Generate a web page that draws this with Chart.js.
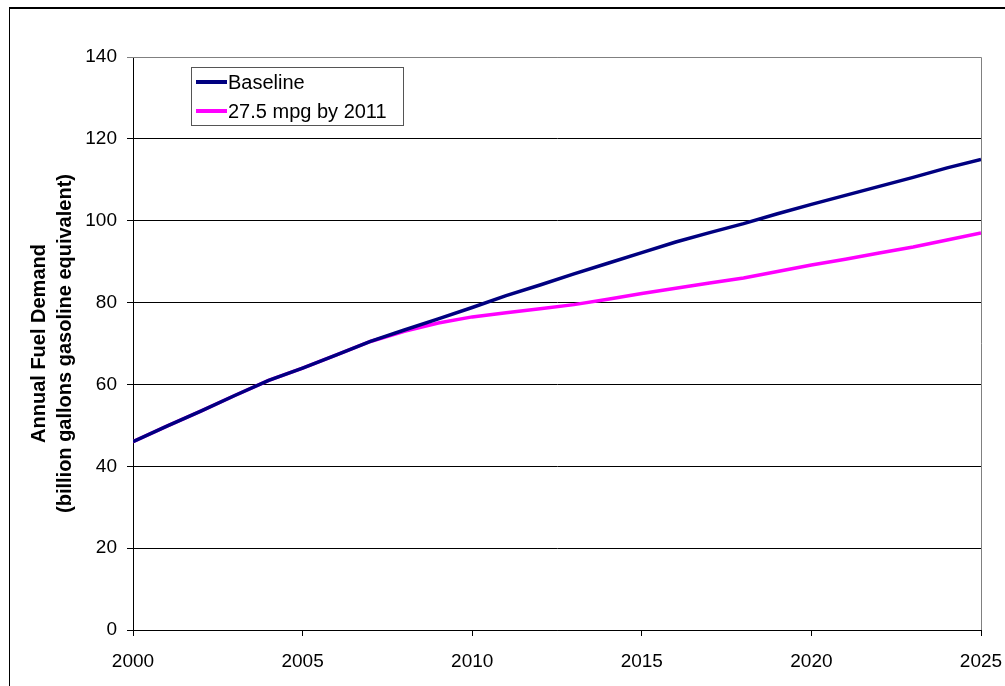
<!DOCTYPE html>
<html lang="en">
<head>
    <meta charset="UTF-8">
    <title>Annual Fuel Demand</title>
    <script src="https://cdn.jsdelivr.net/npm/chart.js"></script>
    <style>
        body { margin: 0; background: #fff; font-family: Arial, "Liberation Sans", sans-serif; }
        #frame { position: absolute; left: 9px; top: 7px; width: 1100px; height: 800px;
                 border-left: 1px solid #000; border-top: 2px solid #000; }
        #wrap { position: absolute; left: 0; top: 0; width: 1005px; height: 686px; }
    </style>
</head>
<body>
    <div id="frame"></div>
    <div id="wrap"><canvas id="fuelChart" width="1005" height="686"></canvas></div>

    <script>
        // data
        const years = [2000, 2001, 2002, 2003, 2004, 2005, 2006, 2007, 2008, 2009, 2010, 2011, 2012,
                       2013, 2014, 2015, 2016, 2017, 2018, 2019, 2020, 2021, 2022, 2023, 2024, 2025];
        const baseline = [46, 49.8, 53.5, 57.3, 61, 64, 67.2, 70.5, 73.3, 76, 78.8, 81.7, 84.3,
                          87, 89.6, 92.2, 94.8, 97.1, 99.3, 101.7, 104, 106.2, 108.4, 110.6, 112.9, 115];
        const mpg275 = [46, 49.8, 53.5, 57.3, 61, 64, 67.2, 70.5, 73, 75, 76.5, 77.5, 78.5,
                        79.5, 80.8, 82.2, 83.5, 84.8, 86, 87.6, 89.2, 90.6, 92.1, 93.6, 95.3, 97];
        const seriesNames = ['Baseline', '27.5 mpg by 2011'];
        const yTitle = ['Annual Fuel Demand', '(billion gallons gasoline equivalent)'];

        const toPoints = vals => years.map((yr, i) => ({ x: yr, y: vals[i] }));

        // legend box drawn inside the plot, plus the grey plot border
        const boxLegend = {
            id: 'boxLegend',
            beforeDatasetsDraw(chart) {
                const { ctx, chartArea: a } = chart;
                ctx.save();
                ctx.strokeStyle = '#808080';
                ctx.lineWidth = 1;
                ctx.beginPath();
                ctx.moveTo(a.left, a.top + 0.5);
                ctx.lineTo(a.right + 0.5, a.top + 0.5);
                ctx.lineTo(a.right + 0.5, a.bottom);
                ctx.stroke();
                ctx.restore();
            },
            afterDraw(chart) {
                const { ctx, chartArea: a } = chart;
                const x = a.left + 58, y = a.top + 10, w = 212, h = 58;
                ctx.save();
                ctx.fillStyle = '#fff';
                ctx.fillRect(x, y, w, h);
                ctx.strokeStyle = '#555';
                ctx.lineWidth = 1;
                ctx.strokeRect(x + 0.5, y + 0.5, w, h);
                ctx.font = '20px Arial, "Liberation Sans", sans-serif';
                ctx.textBaseline = 'middle';
                chart.data.datasets.forEach((ds, i) => {
                    const ly = y + 15 + i * 29;
                    ctx.strokeStyle = ds.borderColor;
                    ctx.lineWidth = 4;
                    ctx.beginPath();
                    ctx.moveTo(x + 5, ly);
                    ctx.lineTo(x + 36, ly);
                    ctx.stroke();
                    ctx.fillStyle = '#000';
                    ctx.fillText(ds.label, x + 37, ly + 1);
                });
                ctx.restore();
            }
        };

        const tickFont = { family: 'Arial, "Liberation Sans", sans-serif', size: 19 };

        new Chart(document.getElementById('fuelChart'), {
            type: 'line',
            data: {
                datasets: [
                    { label: seriesNames[0], data: toPoints(baseline), borderColor: '#000080',
                      borderWidth: 3.5, pointRadius: 0, tension: 0, fill: false },
                    { label: seriesNames[1], data: toPoints(mpg275), borderColor: '#ff00ff',
                      borderWidth: 3.5, pointRadius: 0, tension: 0, fill: false }
                ]
            },
            options: {
                responsive: false,
                animation: false,
                layout: { padding: { top: 57, right: 24, left: 0, bottom: 0 } },
                plugins: { legend: { display: false }, tooltip: { enabled: false } },
                scales: {
                    x: {
                        type: 'linear', min: 2000, max: 2025,
                        afterFit: s => { s.height = 56; s.paddingLeft = 0; s.paddingRight = 0; },
                        border: { color: '#000', width: 1 },
                        grid: { drawOnChartArea: false, drawTicks: true, tickLength: 6, color: '#000' },
                        ticks: { stepSize: 5, color: '#000', font: tickFont, padding: 14,
                                 callback: v => String(v), maxRotation: 0 }
                    },
                    y: {
                        min: 0, max: 140,
                        afterFit: s => { s.width = 133; s.paddingTop = 0; s.paddingBottom = 0; },
                        border: { color: '#000', width: 1 },
                        grid: { color: ctx => ctx.tick && ctx.tick.value === 140 ? '#808080' : '#000',
                                tickLength: 6, lineWidth: 1 },
                        ticks: { stepSize: 20, color: '#000', font: tickFont, padding: 10 },
                        title: {
                            display: true, text: yTitle, color: '#000',
                            font: { family: 'Arial, "Liberation Sans", sans-serif', size: 20, weight: 'bold', lineHeight: '26px' },
                            padding: { top: 26, bottom: 0 }
                        }
                    }
                }
            },
            plugins: [boxLegend]
        });
    </script>
</body>
</html>
